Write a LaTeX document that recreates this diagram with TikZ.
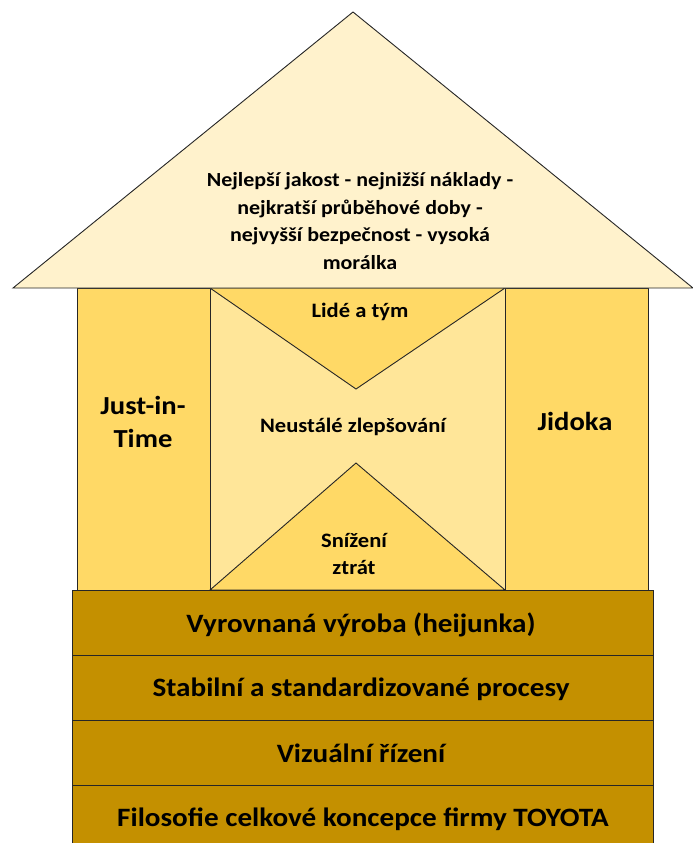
\documentclass[tikz,border=0pt]{standalone}
\usepackage{fontspec}
\setmainfont{Carlito}[FakeStretch=1.1]
\definecolor{roofc}{HTML}{FFF2CC}
\definecolor{pillarc}{HTML}{FFD966}
\definecolor{centerc}{HTML}{FFE699}
\definecolor{basec}{HTML}{C49000}
\begin{document}
\begin{tikzpicture}[x=1pt,y=-1pt,
  edge/.style={draw=black!85,line width=0.9pt,line join=miter},
  roofstyle/.style={edge,fill=roofc},
  pillar/.style={edge,fill=pillarc},
  centre/.style={edge,fill=centerc},
  band/.style={edge,fill=basec},
  lbl/.style={font=\bfseries\fontsize{20}{27.5}\selectfont,align=center,inner sep=0pt},
  clbl/.style={font=\bfseries\fontsize{20.5}{27}\selectfont,align=center,inner sep=0pt},
  plbl/.style={font=\bfseries\fontsize{26}{33}\selectfont,align=center,inner sep=0pt},
  blbl/.style={font=\bfseries\fontsize{26.5}{30}\selectfont,align=center,inner sep=0pt}]
\useasboundingbox (0,0) rectangle (693,843);
\clip (0,0) rectangle (693,843);
% pillars
\draw[pillar] (77,288) rectangle (210,590);
\draw[pillar] (505,288) rectangle (648,590);
% centre
\draw[centre] (210,288) rectangle (505,590);
\draw[pillar] (210,288) -- (505,288) -- (356,389) -- cycle;
\draw[pillar] (210,590) -- (356,463) -- (505,590) -- cycle;
% roof
\draw[roofstyle] (13,288) -- (353,12) -- (693,288) -- cycle;
% base bands
\draw[band] (72,590) rectangle (653,655);
\draw[band] (72,655) rectangle (653,720);
\draw[band] (72,720) rectangle (653,785);
\draw[band] (72,785) rectangle (653,860);
% labels
\node[lbl] (goal) at (360,221) {Nejlepší jakost - nejnižší náklady -\\nejkratší průběhové doby -\\nejvyšší bezpečnost - vysoká\\morálka};
\node[plbl] (jit) at (143,422) {Just-in-\\Time};
\node[plbl] (jid) at (575,421) {Jidoka};
\node[clbl] (team) at (360,312) {Lidé a tým};
\node[clbl] (kaizen) at (353,427) {Neustálé zlepšování};
\node[clbl] (waste) at (354,554) {Snížení\\ztrát};
\node[blbl] (b1) at (361,625) {Vyrovnaná výroba (heijunka)};
\node[blbl] (b2) at (361,689) {Stabilní a standardizované procesy};
\node[blbl] (b3) at (361,753) {Vizuální řízení};
\node[blbl] (b4) at (363,819) {Filosofie celkové koncepce firmy TOYOTA};
\end{tikzpicture}
\end{document}
